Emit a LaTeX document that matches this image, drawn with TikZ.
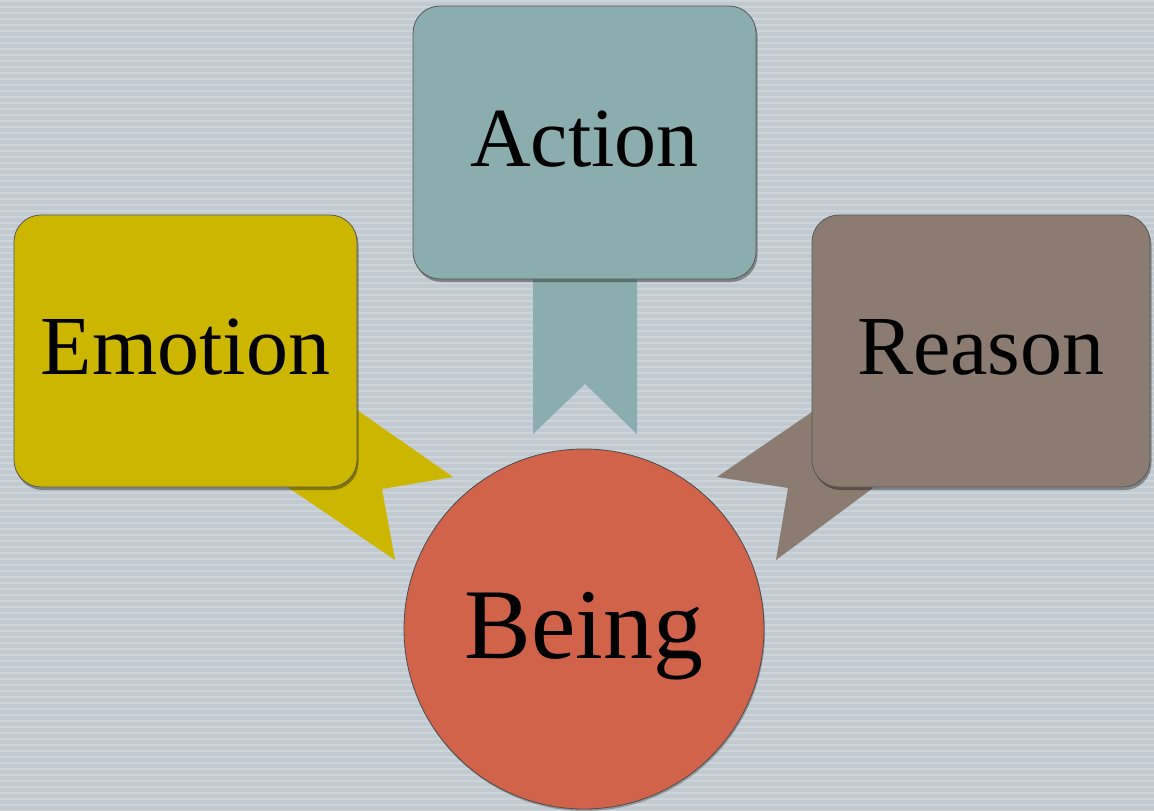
\documentclass[tikz,border=0pt]{standalone}
\usepackage{fontspec}
\setmainfont{Liberation Serif}
\usetikzlibrary{shadows}
\definecolor{bgc}{RGB}{192,202,208}
\definecolor{bgl}{RGB}{205,213,218}
\definecolor{emo}{RGB}{205,182,0}
\definecolor{act}{RGB}{139,173,173}
\definecolor{rea}{RGB}{139,123,112}
\definecolor{bei}{RGB}{208,99,74}
\begin{document}
\begin{tikzpicture}[x=1pt,y=-1pt,
  box/.style={rectangle, rounded corners=27pt, draw=black!65, line width=0.8pt,
    inner sep=0pt, font=\fontsize{84}{90}\selectfont, text height=47pt, text depth=0pt,
    drop shadow={shadow xshift=1.5pt, shadow yshift=-3pt, opacity=.35, fill=black}}]
\fill[bgc] (0,0) rectangle (1154,811);
\useasboundingbox (0,0) rectangle (1154,811);
\foreach \y in {0,6,...,810} \fill[bgl] (0,\y) rectangle (1154,\y+2);
% tails
\fill[emo] (357,410) -- (453,477) -- (382,489) -- (395,560) -- (289,488) -- cycle;
\fill[act] (533,270) -- (637,270) -- (637,434) -- (585,384) -- (533,434) -- cycle;
\fill[rea] (812,412) -- (717,477) -- (788,488) -- (776,560) -- (873,488) -- cycle;
% boxes
\node[box, fill=emo, minimum width=343pt, minimum height=272pt] (emotion) at (185.5,351) {Emotion};
\node[box, fill=act, minimum width=343pt, minimum height=273pt] (action) at (584.5,142.5) {Action};
\node[box, fill=rea, minimum width=338pt, minimum height=272pt] (reason) at (981,351) {Reason};
% circle
\node[circle, fill=bei, draw=black!70, line width=0.8pt, minimum size=360pt, inner sep=0pt,
  font=\fontsize{100}{110}\selectfont, text height=58pt, text depth=0pt,
  drop shadow={shadow xshift=1pt, shadow yshift=-2pt, opacity=.25, fill=black}] (being) at (584,629) {Being};
\end{tikzpicture}
\end{document}
